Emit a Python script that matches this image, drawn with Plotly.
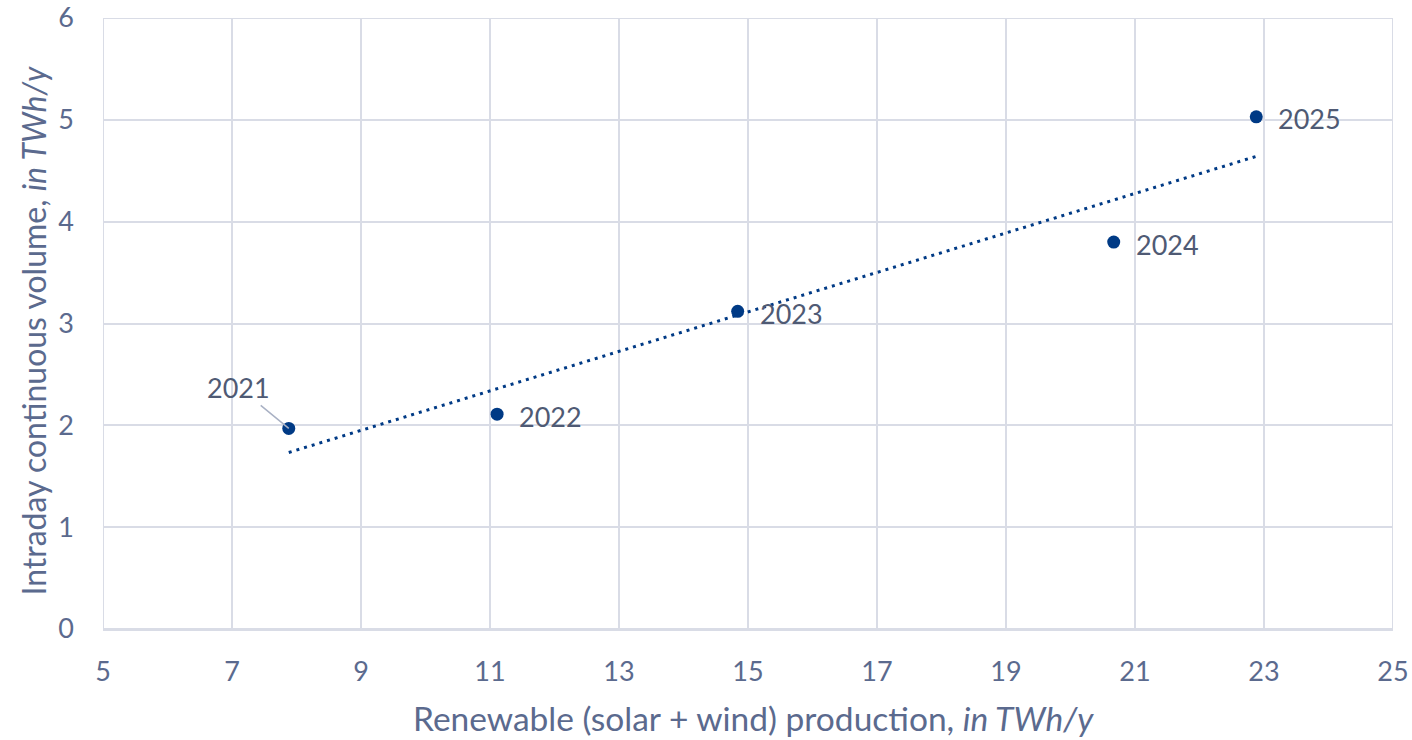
import numpy as np
import plotly.graph_objects as go

years = ["2021", "2022", "2023", "2024", "2025"]
renewable_twh = [7.88, 11.11, 14.84, 20.67, 22.88]
intraday_twh = [1.97, 2.11, 3.12, 3.80, 5.03]

x_ticks = [5, 7, 9, 11, 13, 15, 17, 19, 21, 23, 25]
y_ticks = [0, 1, 2, 3, 4, 5, 6]

NAVY = "#003a85"
TICK = "#5b6a8e"
LABEL = "#4f5a74"
GRID = "#d9dce6"
FONT = "Lato, Open Sans, sans-serif"

slope, intercept = np.polyfit(renewable_twh, intraday_twh, 1)
tx = [min(renewable_twh), max(renewable_twh)]
ty = [slope * v + intercept for v in tx]

fig = go.Figure()
fig.add_trace(go.Scatter(x=tx, y=ty, mode="lines",
                         line=dict(color=NAVY, width=3, dash="3px,5px"),
                         hoverinfo="skip", showlegend=False))
fig.add_trace(go.Scatter(x=renewable_twh, y=intraday_twh, mode="markers",
                         marker=dict(color=NAVY, size=13),
                         showlegend=False))

for yr, xv, yv in zip(years, renewable_twh, intraday_twh):
    if yr == "2021":
        fig.add_annotation(x=xv, y=yv, text=yr, showarrow=True, arrowhead=0,
                           arrowcolor="#a9b1c4", arrowwidth=1.5, ax=-50, ay=-41,
                           font=dict(family=FONT, size=27, color=LABEL))
    else:
        fig.add_annotation(x=xv, y=yv, text=yr, showarrow=False, xanchor="left",
                           xshift=20, yshift=-2,
                           font=dict(family=FONT, size=27, color=LABEL))

# axis titles
fig.add_annotation(xref="paper", yref="paper", x=0.5, y=0, yanchor="middle",
                   xshift=5, yshift=-89, showarrow=False,
                   text="Renewable (solar + wind) production, <i>in TWh/y</i>",
                   font=dict(family=FONT, size=33.5, color=TICK))
fig.add_annotation(xref="paper", yref="paper", x=0, y=0.5, xanchor="center",
                   yanchor="middle", xshift=-70, yshift=-8, showarrow=False,
                   textangle=-90,
                   text="Intraday continuous volume, <i>in TWh/y</i>",
                   font=dict(family=FONT, size=32, color=TICK))

fig.update_layout(
    width=1412, height=740,
    margin=dict(l=103, r=19, t=18, b=111),
    paper_bgcolor="white", plot_bgcolor="white",
    font=dict(family=FONT, color=TICK, size=27),
    xaxis=dict(range=[5, 25], tickvals=x_ticks, showgrid=True, gridcolor=GRID,
               gridwidth=2, zeroline=False, showline=True, linecolor=GRID,
               linewidth=2, ticks="", automargin=False, ticklabelstandoff=18,
               tickfont=dict(family=FONT, size=27, color=TICK)),
    yaxis=dict(range=[0, 6], tickvals=y_ticks, showgrid=True, gridcolor=GRID,
               gridwidth=2, zeroline=False, showline=False, ticks="",
               automargin=False, ticklabelstandoff=28,
               tickfont=dict(family=FONT, size=27, color=TICK)),
)
fig.add_shape(type="rect", xref="x", yref="y", x0=5, x1=25, y0=0, y1=6,
              line=dict(color=GRID, width=2), layer="below")

fig.write_html("out.html", config={"displayModeBar": False},
               post_script="document.body.style.margin='0px';document.body.style.overflow='hidden';")
